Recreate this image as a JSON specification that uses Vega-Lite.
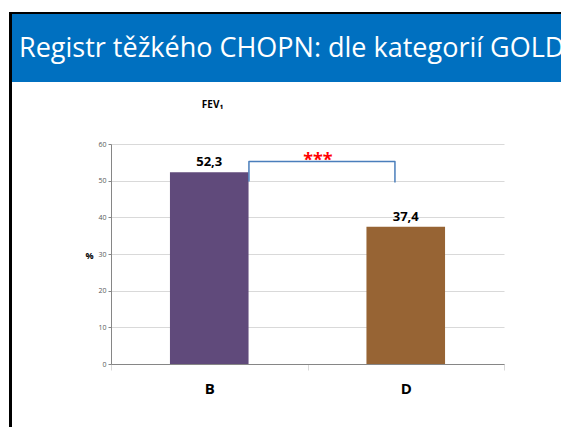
{
  "$schema": "https://vega.github.io/schema/vega-lite/v6.json",
  "padding": {"left": 9, "top": 12, "right": 0, "bottom": 0},
  "background": "white",
  "bounds": "flush",
  "spacing": 0,
  "config": {
    "view": {"stroke": null},
    "font": "Open Sans"
  },
  "hconcat": [
    {
      "width": 3,
      "height": 420,
      "view": {"fill": "black", "stroke": null},
      "data": {"values": []},
      "mark": "rect"
    },
    {
      "bounds": "flush",
      "spacing": 0,
      "vconcat": [
        {
          "width": 549,
          "height": 2,
          "view": {"fill": "black", "stroke": null},
          "data": {"values": []},
          "mark": "rect"
        },
        {
          "width": 549,
          "height": 68,
          "view": {"fill": "#0070C0", "stroke": null},
          "title": {
            "text": "Registr těžkého CHOPN: dle kategorií GOLD",
            "orient": "top",
            "anchor": "start",
            "frame": "group",
            "offset": -70,
            "dx": 7,
            "baseline": "alphabetic",
            "color": "white",
            "font": "Open Sans",
            "fontSize": 27,
            "fontWeight": "normal"
          },
          "data": {"values": []},
          "mark": "rect"
        },
        {
          "width": 1,
          "height": 62,
          "data": {"values": []},
          "mark": "rect"
        },
        {
          "bounds": "flush",
          "spacing": 0,
          "hconcat": [
            {
              "width": 99,
              "height": 220,
              "data": {"values": []},
              "mark": "rect"
            },
            {
              "width": 393,
              "height": 220,
              "title": {
                "text": "FEV₁",
                "anchor": "middle",
                "frame": "group",
                "dx": -95,
                "offset": 22,
                "baseline": "alphabetic",
                "font": "Open Sans",
                "fontSize": 10,
                "fontWeight": "bold",
                "color": "black"
              },
              "resolve": {"scale": {"x": "independent"}, "axis": {"x": "independent"}},
              "layer": [
                {
                  "data": {"values": [
                    {"cat": "B", "value": 52.3, "label": "52,3"},
                    {"cat": "D", "value": 37.4, "label": "37,4"}
                  ]},
                  "layer": [
                    {
                      "mark": {"type": "bar", "width": {"band": 0.4}},
                      "encoding": {
                        "x": {
                          "field": "cat", "type": "nominal",
                          "scale": {"paddingInner": 0, "paddingOuter": 0},
                          "axis": {
                            "title": null, "labelAngle": 0, "grid": false,
                            "tickBand": "extent", "tickSize": 6, "tickColor": "#d9d9d9",
                            "domainColor": "#868686", "labelFont": "Open Sans",
                            "labelFontSize": 15, "labelFontWeight": "bold",
                            "labelColor": "black", "labelPadding": 11
                          }
                        },
                        "y": {
                          "field": "value", "type": "quantitative",
                          "scale": {"domain": [0, 60], "nice": false},
                          "axis": {
                            "title": "%", "titleAngle": 0, "titleX": -22, "titleY": 111,
                            "titleAlign": "center", "titleBaseline": "middle",
                            "titleFont": "Open Sans", "titleFontSize": 9, "titleFontWeight": "bold",
                            "titleColor": "black",
                            "values": [0, 10, 20, 30, 40, 50, 60], "labelOverlap": false,
                            "labelFontSize": 7, "labelColor": "#595959", "labelPadding": 2,
                            "tickSize": 3, "tickColor": "#868686", "domainColor": "#868686",
                            "gridColor": "#d9d9d9"
                          }
                        },
                        "color": {
                          "field": "cat", "type": "nominal",
                          "scale": {"domain": ["B", "D"], "range": ["#604A7B", "#976434"]},
                          "legend": null
                        }
                      }
                    },
                    {
                      "mark": {"type": "text", "dy": -6, "baseline": "alphabetic", "font": "Open Sans", "fontSize": 13, "fontWeight": "bold", "color": "black"},
                      "encoding": {
                        "x": {"field": "cat", "type": "nominal"},
                        "y": {
                          "field": "value", "type": "quantitative",
                          "axis": {
                            "title": "%", "titleAngle": 0, "titleX": -22, "titleY": 111,
                            "titleAlign": "center", "titleBaseline": "middle",
                            "titleFont": "Open Sans", "titleFontSize": 9, "titleFontWeight": "bold",
                            "titleColor": "black",
                            "values": [0, 10, 20, 30, 40, 50, 60], "labelOverlap": false,
                            "labelFontSize": 7, "labelColor": "#595959", "labelPadding": 2,
                            "tickSize": 3, "tickColor": "#868686", "domainColor": "#868686",
                            "gridColor": "#d9d9d9"
                          }
                        },
                        "text": {"field": "label"}
                      }
                    }
                  ]
                },
                {
                  "data": {"values": [
                    {"i": 0, "bx": 0.702, "value": 49.8},
                    {"i": 1, "bx": 0.702, "value": 55.2},
                    {"i": 2, "bx": 1.445, "value": 55.2},
                    {"i": 3, "bx": 1.445, "value": 49.5}
                  ]},
                  "mark": {"type": "line", "color": "#4A7EBB", "strokeWidth": 1.5, "strokeJoin": "round"},
                  "encoding": {
                    "x": {"field": "bx", "type": "quantitative", "scale": {"domain": [0, 2], "nice": false}, "axis": null},
                    "y": {
                      "field": "value", "type": "quantitative",
                      "axis": {
                        "title": "%", "titleAngle": 0, "titleX": -22, "titleY": 111,
                        "titleAlign": "center", "titleBaseline": "middle",
                        "titleFont": "Open Sans", "titleFontSize": 9, "titleFontWeight": "bold",
                        "titleColor": "black",
                        "values": [0, 10, 20, 30, 40, 50, 60], "labelOverlap": false,
                        "labelFontSize": 7, "labelColor": "#595959", "labelPadding": 2,
                        "tickSize": 3, "tickColor": "#868686", "domainColor": "#868686",
                        "gridColor": "#d9d9d9"
                      }
                    },
                    "order": {"field": "i"}
                  }
                },
                {
                  "data": {"values": [{"sx": 1.053, "value": 54.1, "t": "***"}]},
                  "mark": {"type": "text", "baseline": "alphabetic", "font": "Open Sans", "fontSize": 18, "fontWeight": "bold", "color": "#FF0000"},
                  "encoding": {
                    "x": {"field": "sx", "type": "quantitative", "scale": {"domain": [0, 2], "nice": false}, "axis": null},
                    "y": {
                      "field": "value", "type": "quantitative",
                      "axis": {
                        "title": "%", "titleAngle": 0, "titleX": -22, "titleY": 111,
                        "titleAlign": "center", "titleBaseline": "middle",
                        "titleFont": "Open Sans", "titleFontSize": 9, "titleFontWeight": "bold",
                        "titleColor": "black",
                        "values": [0, 10, 20, 30, 40, 50, 60], "labelOverlap": false,
                        "labelFontSize": 7, "labelColor": "#595959", "labelPadding": 2,
                        "tickSize": 3, "tickColor": "#868686", "domainColor": "#868686",
                        "gridColor": "#d9d9d9"
                      }
                    },
                    "text": {"field": "t"}
                  }
                }
              ]
            }
          ]
        }
      ]
    }
  ]
}
